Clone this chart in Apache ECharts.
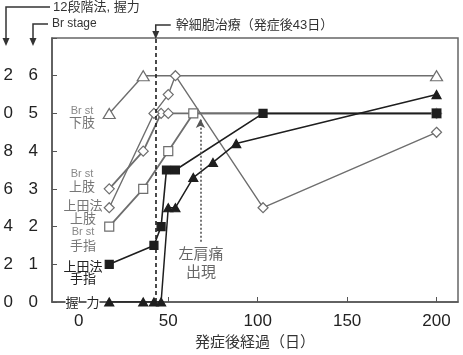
<!DOCTYPE html>
<html>
<head>
<meta charset="utf-8">
<title>発症後経過</title>
<script src="https://cdn.jsdelivr.net/npm/echarts@6/dist/echarts.min.js"></script>
<style>
html,body{margin:0;padding:0;background:#fff;}
#main{width:463px;height:355px;}
</style>
</head>
<body>
<div id="main"></div>
<script>
// days after onset / values on the Br stage scale (0-6)
var daysLowerBr = [17, 36, 200];
var lowerBr = [5, 6, 6];
var daysUpperBr = [17, 36, 46, 50, 200];
var upperBr = [3, 4, 5, 5, 5];
var daysUpperUeda = [17, 42, 50, 54, 103, 200];
var upperUeda = [2.5, 5, 5.5, 6, 2.5, 4.5];
var daysFingerBr = [17, 36, 50, 64, 200];
var fingerBr = [2, 3, 4, 5, 5];
var daysFingerUeda = [17, 42, 46, 49, 54, 103, 200];
var fingerUeda = [1, 1.5, 2, 3.5, 3.5, 5, 5];
var daysGrip = [17, 36, 42, 46, 50, 54, 64, 75, 88, 200];
var grip = [0, 0, 0, 0, 2.5, 2.5, 3.3, 3.7, 4.2, 5.5];
var xTicks = [0, 50, 100, 150, 200];
var brLabels = ['0', '1', '2', '3', '4', '5', '6', ''];
var twelveLabels = ['0', '2', '4', '6', '8', '0', '2', ''];
var stemCellDay = 43;
var painDay = 68;

var FONT = '"Liberation Sans", "Noto Sans CJK JP", sans-serif';
var GRAY = '#6e6e6e';
var BLACK = '#1e1e1e';

function pairs(xs, ys) {
    return xs.map(function (x, i) { return [x, ys[i]]; });
}
function line(name, xs, ys, symbol, size, fill, stroke, width) {
    return {
        name: name,
        type: 'line',
        data: pairs(xs, ys),
        symbol: symbol,
        symbolSize: size,
        showAllSymbol: true,
        animation: false,
        lineStyle: {color: stroke, width: width},
        itemStyle: {color: fill, borderColor: stroke, borderWidth: 1.2}
    };
}

var chart = echarts.init(document.getElementById('main'));

var series = [
    line('Br st 下肢', daysLowerBr, lowerBr, 'triangle', [12, 10], '#fff', GRAY, 1.4),
    line('Br st 上肢', daysUpperBr, upperBr, 'diamond', [10, 10], '#fff', GRAY, 1.8),
    line('上田法 上肢', daysUpperUeda, upperUeda, 'diamond', [10, 10], '#fff', GRAY, 1.4),
    line('Br st 手指', daysFingerBr, fingerBr, 'rect', [9, 9], '#fff', GRAY, 1.8),
    line('上田法 手指', daysFingerUeda, fingerUeda, 'rect', [8, 8], BLACK, BLACK, 1.6),
    line('握力', daysGrip, grip, 'triangle', [9, 8], BLACK, BLACK, 1.5)
];
// stem cell therapy day (dashed) and shoulder pain onset (dotted arrow)
series[0].markLine = {
    silent: true,
    symbol: ['none', 'none'],
    label: {show: false},
    lineStyle: {color: BLACK, type: [4, 3], width: 1.6},
    data: [{xAxis: stemCellDay}]
};
series[1].markLine = {
    silent: true,
    symbol: ['none', 'arrow'],
    symbolSize: [7, 9],
    label: {show: false},
    lineStyle: {color: '#555', type: [2, 2], width: 1.6},
    data: [[{coord: [painDay, 1.6]}, {coord: [painDay, 4.85]}]]
};

chart.setOption({
    animation: false,
    textStyle: {fontFamily: FONT},
    grid: {left: 52, right: 5, top: 38, bottom: 53, show: true, borderColor: '#666', borderWidth: 1.5},
    xAxis: {
        type: 'value',
        min: -15,
        max: 212,
        name: '発症後経過（日）',
        nameLocation: 'middle',
        nameGap: 30,
        nameTextStyle: {fontSize: 15, color: '#333', fontFamily: FONT},
        axisLine: {onZero: false, lineStyle: {color: '#555', width: 1.5}},
        axisTick: {inside: true, length: 5, customValues: xTicks, lineStyle: {color: '#555'}},
        axisLabel: {customValues: xTicks, fontSize: 17, color: '#222', margin: 11},
        splitLine: {show: false}
    },
    yAxis: [{
        type: 'value',
        min: 0,
        max: 7,
        interval: 1,
        axisLine: {show: true, onZero: false, lineStyle: {color: '#555', width: 1.5}},
        axisTick: {show: true, inside: true, length: 5, lineStyle: {color: '#555'}},
        axisLabel: {fontSize: 17, color: '#222', margin: 14, formatter: function (v) { return brLabels[v]; }},
        splitLine: {show: false}
    }, {
        type: 'value',
        position: 'left',
        min: 0,
        max: 7,
        interval: 1,
        axisLine: {show: false, onZero: false},
        axisTick: {show: false},
        axisLabel: {fontSize: 17, color: '#222', margin: 39, formatter: function (v) { return twelveLabels[v]; }},
        splitLine: {show: false}
    }],
    series: series
});

var dayX = chart.convertToPixel({xAxisIndex: 0}, stemCellDay);

function arrowDown(x, y) {
    return {type: 'polygon', shape: {points: [[x - 3.5, y - 8], [x + 3.5, y - 8], [x, y]]}, style: {fill: '#333'}, z: 20};
}
function path(points, dash) {
    return {type: 'polyline', shape: {points: points}, style: {stroke: '#333', lineWidth: 1.5, fill: null, lineDash: dash || null}, z: 20};
}
function label(x, y, text, size, color, bg) {
    return {
        type: 'text', x: x, y: y, z: 30,
        style: {text: text, fontSize: size, fill: color, fontFamily: FONT, align: 'center', verticalAlign: 'middle', backgroundColor: bg || null}
    };
}
function note(x, y, text, size) {
    return {
        type: 'text', x: x, y: y, z: 30,
        style: {text: text, fontSize: size, fill: '#333', fontFamily: FONT, align: 'left', verticalAlign: 'middle'}
    };
}

chart.setOption({
    graphic: [
        path([[50, 7], [6, 7], [6, 40]]), arrowDown(6, 46),
        note(53, 7, '12段階法, 握力', 13),
        path([[48, 24], [33, 24], [33, 40]]), arrowDown(33, 46),
        note(52, 24, 'Br stage', 12),
        path([[dayX + 15, 25], [dayX, 25], [dayX, 32]]), arrowDown(dayX, 39),
        note(dayX + 20, 25, '幹細胞治療（発症後43日）', 13),
        label(82, 111, 'Br st', 11, '#888'),
        label(82, 123, '下肢', 13, '#777'),
        label(82, 174, 'Br st', 11, '#888'),
        label(82, 187, '上肢', 13, '#777'),
        label(83, 206, '上田法', 13, '#777'),
        label(83, 219, '上肢', 13, '#777'),
        label(83, 232, 'Br st', 11, '#888'),
        label(83, 246, '手指', 13, '#777'),
        label(83, 267, '上田法', 13, '#222'),
        label(83, 279, '手指', 13, '#222'),
        label(72, 303, '握', 13, '#222', '#fff'),
        label(93, 303, '力', 13, '#222', '#fff'),
        label(201, 255, '左肩痛', 15, '#666'),
        label(201, 273, '出現', 15, '#666')
    ]
});
</script>
</body>
</html>
